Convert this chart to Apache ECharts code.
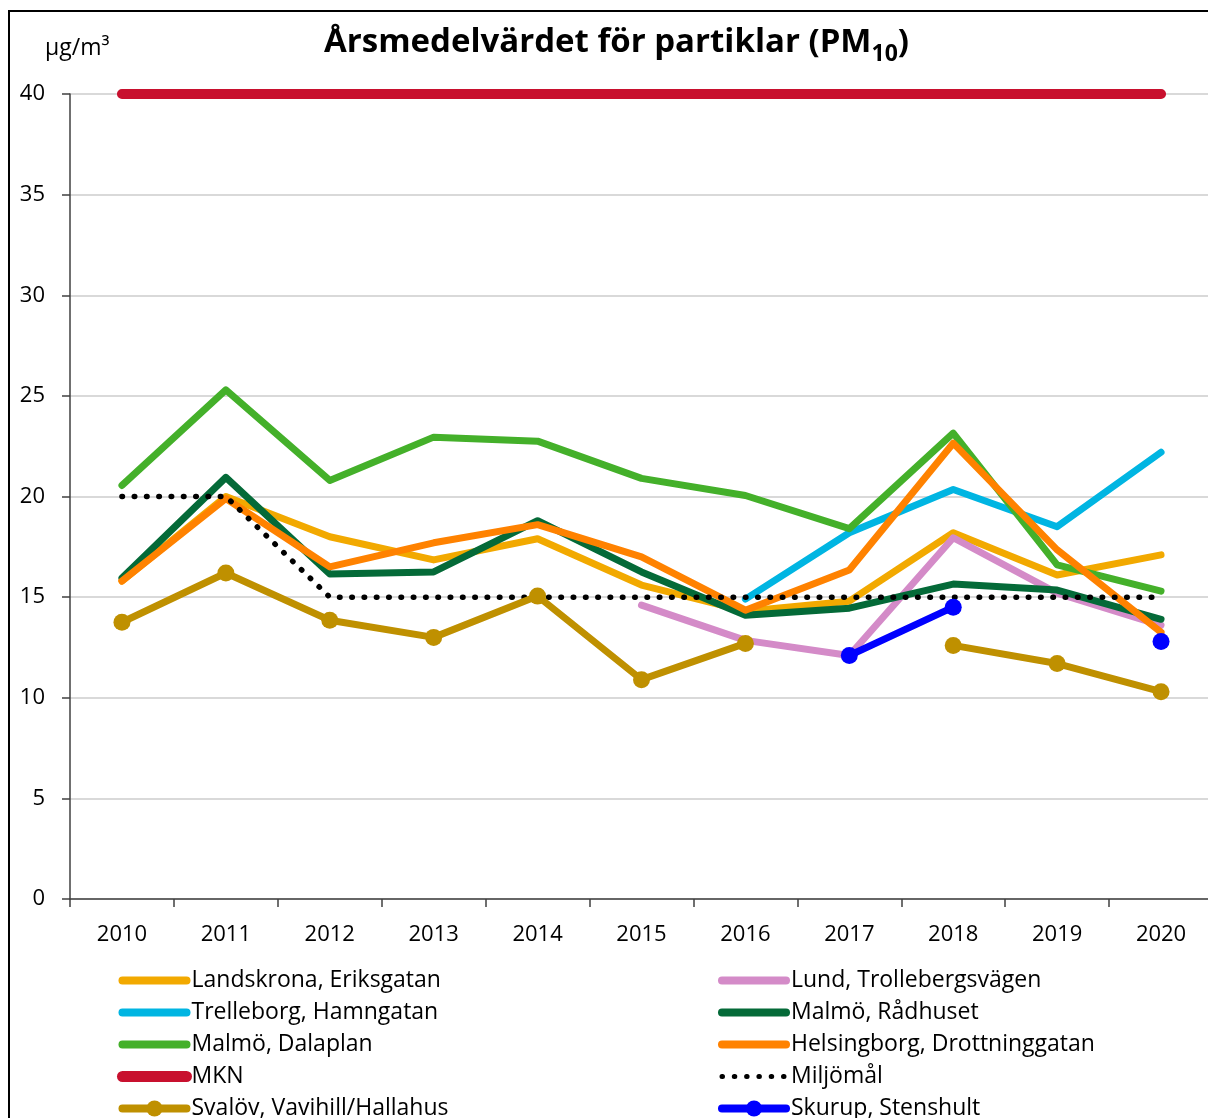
<!DOCTYPE html>
<html>
<head>
<meta charset="utf-8">
<script src="https://cdn.jsdelivr.net/npm/echarts@6/dist/echarts.min.js"></script>
<style>
  html, body { margin: 0; padding: 0; background: #fff; overflow: hidden; }
  #chart { width: 1220px; height: 1118px; }
</style>
</head>
<body>
<div id="chart"></div>
<script>
// årtal på x-axeln
const years = ['2010', '2011', '2012', '2013', '2014', '2015', '2016', '2017', '2018', '2019', '2020'];

// årsmedelvärden PM10 (µg/m3)
const landskrona  = [15.8, 20.0, 18.0, 16.85, 17.9, 15.6, 14.3, 14.8, 18.2, 16.1, 17.1];
const lund        = [null, null, null, null, null, 14.6, 12.85, 12.1, 17.95, 15.2, 13.6];
const trelleborg  = [null, null, null, null, null, null, 14.9, 18.2, 20.35, 18.5, 22.2];
const radhuset    = [15.95, 20.95, 16.15, 16.25, 18.8, 16.25, 14.1, 14.45, 15.65, 15.35, 13.9];
const dalaplan    = [20.55, 25.3, 20.8, 22.95, 22.75, 20.9, 20.05, 18.4, 23.15, 16.6, 15.3];
const helsingborg = [15.8, 19.9, 16.5, 17.7, 18.6, 17.0, 14.35, 16.35, 22.65, 17.35, 13.25];
const mkn         = [40, 40, 40, 40, 40, 40, 40, 40, 40, 40, 40];
const miljomal    = [20, 20, 15, 15, 15, 15, 15, 15, 15, 15, 15];
const svalov      = [13.75, 16.2, 13.85, 13.0, 15.05, 10.9, 12.7, null, 12.6, 11.7, 10.3];
const skurup      = [null, null, null, null, null, null, null, 12.1, 14.5, null, 12.8];

const chart = echarts.init(document.getElementById('chart'));

const FONT = '"Open Sans", "Noto Sans", sans-serif';

const lineSeries = (name, data, color, extra) => Object.assign({
    name: name,
    type: 'line',
    data: data,
    symbol: 'none',
    connectNulls: false,
    lineStyle: { color: color, width: 7, cap: 'round', join: 'round' },
    itemStyle: { color: color },
    emphasis: { disabled: true }
}, extra || {});

// legendposter utan markör: dölj cirkeln i ikonen
const noDot = (name, width) => ({
    name: name,
    itemStyle: { opacity: 0 },
    lineStyle: { width: width || 8 }
});

const legendBase = {
    orient: 'vertical',
    top: 964,
    height: 200,
    itemWidth: 64,
    itemHeight: 20,
    itemGap: 9,
    textStyle: { fontFamily: FONT, fontSize: 23, color: '#000', lineHeight: 22 },
    lineStyle: { width: 8 }
};

const option = {
    animation: false,
    backgroundColor: '#fff',
    textStyle: { fontFamily: FONT },
    title: {
        left: 319,
        top: 15,
        text: '{a|Årsmedelvärdet för partiklar (PM}{s|10}{a|)}',
        textStyle: {
            rich: {
                a: { fontFamily: FONT, fontWeight: 'bold', fontSize: 33, color: '#000', lineHeight: 46, verticalAlign: 'middle' },
                s: { fontFamily: FONT, fontWeight: 'bold', fontSize: 23, color: '#000', lineHeight: 46, verticalAlign: 'bottom' }
            }
        }
    },
    graphic: [
        {
            type: 'rect',
            silent: true,
            shape: { x: 9, y: 11, width: 1400, height: 1300 },
            style: { fill: null, stroke: '#000', lineWidth: 2 }
        },
        {
            type: 'text',
            left: 45,
            top: 37,
            style: { text: 'µg/m³', font: '23px ' + FONT, fill: '#000' }
        }
    ],
    grid: {
        left: 70,
        top: 94,
        width: 1143,
        height: 805,
        containLabel: false
    },
    legend: [
        Object.assign({}, legendBase, {
            left: 112,
            data: [
                noDot('Landskrona, Eriksgatan'),
                noDot('Trelleborg, Hamngatan'),
                noDot('Malmö, Dalaplan'),
                noDot('MKN', 11),
                { name: 'Svalöv, Vavihill/Hallahus' }
            ]
        }),
        Object.assign({}, legendBase, {
            left: 713,
            data: [
                noDot('Lund, Trollebergsvägen'),
                noDot('Malmö, Rådhuset'),
                noDot('Helsingborg, Drottninggatan'),
                noDot('Miljömål', 5),
                { name: 'Skurup, Stenshult' }
            ]
        })
    ],
    xAxis: {
        type: 'category',
        data: years,
        boundaryGap: true,
        axisLine: { show: true, lineStyle: { color: '#404040', width: 1.5 } },
        axisTick: { show: true, length: 8, lineStyle: { color: '#404040', width: 1.5 } },
        axisLabel: { fontFamily: FONT, fontSize: 22, color: '#000', margin: 25 },
        splitLine: { show: false }
    },
    yAxis: {
        type: 'value',
        min: 0,
        max: 40,
        interval: 5,
        axisLine: { show: true, lineStyle: { color: '#404040', width: 1.5 } },
        axisTick: { show: true, length: 8, lineStyle: { color: '#404040', width: 1.5 } },
        axisLabel: { fontFamily: FONT, fontSize: 22, color: '#000', margin: 25 },
        splitLine: { show: true, lineStyle: { color: '#cccccc', width: 1.5 } }
    },
    series: [
        lineSeries('Landskrona, Eriksgatan', landskrona, '#f2a900'),
        lineSeries('Lund, Trollebergsvägen', lund, '#d48bc8'),
        lineSeries('Trelleborg, Hamngatan', trelleborg, '#00b5e2'),
        lineSeries('Malmö, Rådhuset', radhuset, '#046a38'),
        lineSeries('Malmö, Dalaplan', dalaplan, '#44b02a'),
        lineSeries('Helsingborg, Drottninggatan', helsingborg, '#ff8200'),
        lineSeries('MKN', mkn, '#c8102e', {
            lineStyle: { color: '#c8102e', width: 10, cap: 'round' }
        }),
        lineSeries('Miljömål', miljomal, '#000', {
            lineStyle: { color: '#000', width: 5.5, type: [0.5, 11.8], cap: 'round', join: 'round' }
        }),
        lineSeries('Svalöv, Vavihill/Hallahus', svalov, '#bf9000', {
            symbol: 'circle',
            symbolSize: 17,
            showSymbol: true,
            showAllSymbol: true
        }),
        lineSeries('Skurup, Stenshult', skurup, '#0000ff', {
            symbol: 'circle',
            symbolSize: 17,
            showSymbol: true,
            showAllSymbol: true
        })
    ]
};

chart.setOption(option);
</script>
</body>
</html>
